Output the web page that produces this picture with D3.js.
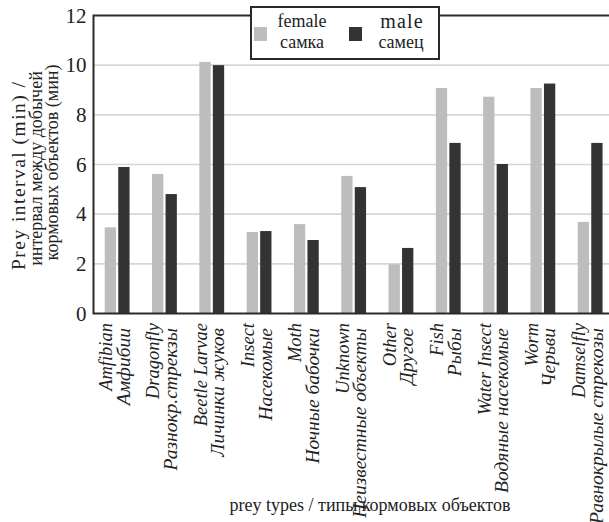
<!DOCTYPE html>
<html>
<head>
<meta charset="utf-8">
<script src="https://cdn.jsdelivr.net/npm/d3@7"></script>
<style>
  html, body { margin: 0; padding: 0; background: #fff; }
  svg { display: block; }
</style>
</head>
<body>
<svg id="chart" width="609" height="522"></svg>
<script>
// Prey categories (English / Russian) and mean prey intervals, minutes
const categoriesEn = ["Amfibian", "Dragonfly", "Beetle Larvae", "Insect", "Moth", "Unknown",
  "Other", "Fish", "Water Insect", "Worm", "Damselfly"];
const categoriesRu = ["Амфибии", "Разнокр.стрекзы", "Личинки жуков", "Насекомые", "Ночные бабочки",
  "Неизвестные объекты", "Другое", "Рыбы", "Водяные насекомые", "Черьви", "Равнокрылые стрекозы"];
const femaleValues = [3.47, 5.62, 10.13, 3.28, 3.60, 5.54, 1.98, 9.08, 8.73, 9.08, 3.69];
const maleValues = [5.90, 4.81, 10.0, 3.32, 2.96, 5.09, 2.64, 6.87, 6.02, 9.26, 6.87];
const seriesKeys = ["female", "male"];
const seriesLabelsEn = ["female", "male"];
const seriesLabelsRu = ["самка", "самец"];
const yTicks = [0, 2, 4, 6, 8, 10, 12];

const colors = { female: "#bdbdbd", male: "#323434" };
const SERIF = '"Liberation Serif"';
const INK = "#222";

const svg = d3.select("#chart");
const plotLeft = 93.5, plotTop = 15.5, plotBottom = 313.5, plotRight = 613.8;

const x0 = d3.scaleBand().domain(categoriesEn).range([plotLeft, plotRight]).paddingInner(0).paddingOuter(0);
const half = x0.bandwidth() / 2;
const x1 = d3.scaleBand().domain(seriesKeys).range([half - 12.4, half + 12.4]).paddingInner(0.163);
const y = d3.scaleLinear().domain([0, 12]).range([plotBottom, plotTop]);

// horizontal gridlines
svg.append("g").selectAll("line")
  .data(yTicks.filter(t => t > 0 && t < 12))
  .join("line")
  .attr("x1", plotLeft).attr("x2", 609)
  .attr("y1", d => y(d)).attr("y2", d => y(d))
  .attr("stroke", "#d6d6d6").attr("stroke-width", 1.6);

// bars
const rows = categoriesEn.map((c, i) => ({ cat: c, female: femaleValues[i], male: maleValues[i] }));
const groups = svg.append("g").selectAll("g")
  .data(rows).join("g")
  .attr("transform", d => `translate(${x0(d.cat)},0)`);
groups.selectAll("rect")
  .data(d => seriesKeys.map(k => ({ key: k, value: d[k] })))
  .join("rect")
  .attr("x", d => x1(d.key))
  .attr("width", x1.bandwidth())
  .attr("y", d => y(d.value))
  .attr("height", d => y(0) - y(d.value))
  .attr("fill", d => colors[d.key]);

// frame: left, top and baseline
svg.append("path")
  .attr("d", `M609,${plotTop}H${plotLeft}V${plotBottom}H609`)
  .attr("stroke", "#2a2a2a").attr("stroke-width", 2).attr("fill", "none");

// y axis labels
const yAxis = d3.axisLeft(y).tickValues(yTicks).tickSize(0).tickPadding(7).tickFormat(d3.format("d"));
const gy = svg.append("g").attr("transform", `translate(${plotLeft},0)`).call(yAxis);
gy.select(".domain").remove();
gy.attr("font-family", null).attr("font-size", null);
gy.selectAll("text")
  .style("font-family", SERIF)
  .attr("font-size", 21).attr("fill", INK);

// category labels, rotated, English and Russian lines
const xl = svg.append("g").selectAll("g")
  .data(categoriesEn).join("g")
  .attr("transform", d => `translate(${x0(d) + half},323) rotate(-90)`);
xl.append("text")
  .attr("text-anchor", "end")
  .attr("y", -5)
  .style("font-family", SERIF).style("font-style", "italic").attr("font-size", 18.5)
  .attr("fill", INK)
  .text(d => d);
xl.append("text")
  .attr("text-anchor", "end")
  .attr("x", -5)
  .attr("y", 12.5)
  .style("font-family", SERIF).style("font-style", "italic").attr("font-size", 19.5)
  .attr("fill", INK)
  .text((d, i) => categoriesRu[i]);

// axis titles
svg.append("text")
  .attr("x", 370).attr("y", 511)
  .attr("text-anchor", "middle")
  .style("font-family", SERIF).attr("font-size", 18).attr("fill", INK)
  .text("prey types / типы кормовых объектов");

const yTitle = ["Prey interval (min) /", "интервал между добычей", "кормовых объектов (мин)"];
const yTitleG = svg.append("g").selectAll("text")
  .data(yTitle).join("text")
  .attr("transform", (d, i) => `translate(${25 + i * 16.5},${[176, 168.5, 162.5][i]}) rotate(-90)`)
  .attr("text-anchor", "middle")
  .style("font-family", SERIF).attr("font-size", 18).attr("fill", INK)
  .text(d => d);
// the English line runs a little wider, by letter spacing only
yTitleG.filter((d, i) => i === 0)
  .attr("font-size", 19.5)
  .attr("textLength", 188)
  .attr("lengthAdjust", "spacing");

// legend
const lg = svg.append("g");
lg.append("rect").attr("x", 251).attr("y", 7).attr("width", 188).attr("height", 52)
  .attr("fill", "#fff").attr("stroke", "#2a2a2a").attr("stroke-width", 2);
const items = lg.selectAll("g.item").data(seriesKeys).join("g")
  .attr("transform", (d, i) => `translate(${[254, 349][i]},27)`);
items.append("rect").attr("width", 13).attr("height", 14).attr("fill", d => colors[d]);
items.append("text")
  .attr("x", (d, i) => [48, 53][i]).attr("y", (d, i) => [0, 1][i])
  .attr("text-anchor", "middle")
  .style("font-family", SERIF)
  .attr("font-size", (d, i) => [18, 20][i])
  .attr("letter-spacing", (d, i) => [0, 1.2][i])
  .attr("fill", INK)
  .text((d, i) => seriesLabelsEn[i]);
items.append("text")
  .attr("x", (d, i) => [48, 52][i]).attr("y", 21)
  .attr("text-anchor", "middle")
  .style("font-family", SERIF).attr("font-size", 18).attr("fill", INK)
  .text((d, i) => seriesLabelsRu[i]);
</script>
</body>
</html>
